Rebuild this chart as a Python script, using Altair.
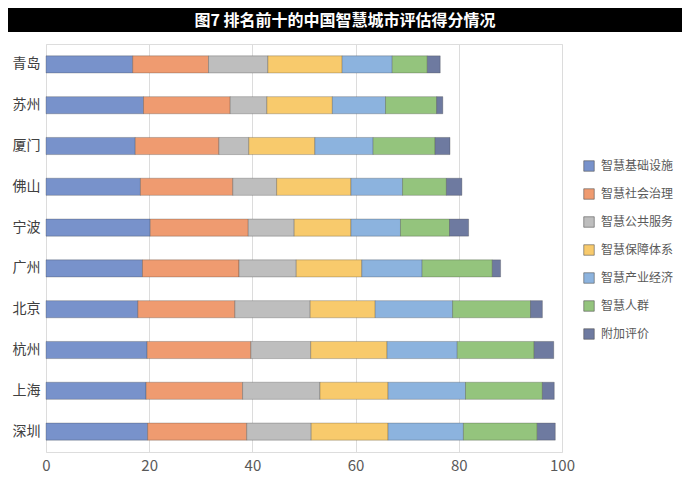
import altair as alt
import pandas as pd

cities = ["青岛", "苏州", "厦门", "佛山", "宁波", "广州", "北京", "杭州", "上海", "深圳"]
series = ["智慧基础设施", "智慧社会治理", "智慧公共服务", "智慧保障体系", "智慧产业经济", "智慧人群", "附加评价"]

infra   = [16.8, 18.9, 17.3, 18.3, 20.2, 18.7, 17.8, 19.6, 19.4, 19.7]
social  = [14.7, 16.8, 16.2, 17.9, 19.0, 18.7, 18.8, 20.1, 18.7, 19.2]
public  = [11.5, 7.1, 5.8, 8.5, 8.9, 11.1, 14.6, 11.6, 15.0, 12.5]
secure  = [14.4, 12.7, 12.8, 14.4, 11.0, 12.7, 12.6, 14.8, 13.2, 14.9]
economy = [9.7, 10.3, 11.3, 10.0, 9.6, 11.7, 15.0, 13.6, 15.0, 14.6]
people  = [6.8, 9.9, 12.0, 8.5, 9.5, 13.6, 15.1, 14.9, 14.9, 14.3]
extra   = [2.5, 1.2, 2.9, 3.0, 3.7, 1.6, 2.3, 3.8, 2.3, 3.5]

values = [infra, social, public, secure, economy, people, extra]
colors = ["#7892CB", "#EF9B70", "#BEBEBE", "#F8CA6C", "#8CB3DE", "#94C47D", "#6E7AA0"]

rows = []
for si, (s, vals) in enumerate(zip(series, values)):
    for c, v in zip(cities, vals):
        rows.append({"city": c, "series": s, "order": si, "value": v})
df = pd.DataFrame(rows)

FONT = "Noto Sans CJK SC"

bars = alt.Chart(df).mark_bar(stroke="#333333", strokeOpacity=0.35, strokeWidth=0.8).encode(
    y=alt.Y("city:N", sort=cities, title=None,
            scale=alt.Scale(paddingInner=0.58, paddingOuter=0.29),
            axis=alt.Axis(ticks=False, domain=False, grid=False, labelFontSize=14,
                          labelColor="#404040", labelPadding=6, labelFont=FONT)),
    x=alt.X("value:Q", stack="zero", title=None,
            scale=alt.Scale(domain=[0, 100], nice=False),
            axis=alt.Axis(values=[0, 20, 40, 60, 80, 100], ticks=False, domain=False,
                          grid=True, gridColor="#DCDCDC", labelFontSize=15,
                          labelColor="#595959", labelPadding=6, labelFont=FONT,
                          labelFlush=False)),
    color=alt.Color("series:N", sort=series, title=None,
                    scale=alt.Scale(domain=series, range=colors),
                    legend=alt.Legend(orient="none", legendX=537, legendY=116,
                                      symbolType="square", symbolSize=110,
                                      symbolStrokeColor="#555555", symbolStrokeWidth=0.6,
                                      labelFontSize=12, labelColor="#595959",
                                      labelFont=FONT, rowPadding=14, labelOffset=6)),
    order=alt.Order("order:Q"),
)

title_df = pd.DataFrame({"t": ["图7  排名前十的中国智慧城市评估得分情况"]})
title_bg = alt.Chart(title_df).mark_rect(color="#000000").encode(
    x=alt.value(-38), x2=alt.value(636), y=alt.value(-36), y2=alt.value(-12)
)
title_txt = alt.Chart(title_df).mark_text(
    color="#FFFFFF", fontSize=16, fontWeight="bold", font=FONT, align="center", baseline="middle"
).encode(x=alt.value(299), y=alt.value(-23), text="t:N")

chart = alt.layer(bars, title_bg, title_txt).properties(
    width=516, height=408,
    autosize=alt.AutoSizeParams(type="none"),
    padding={"left": 38, "top": 36, "right": 120, "bottom": 30},
).configure_view(stroke=None).configure(background="#FFFFFF")

chart.save("out.html", embed_options={"renderer": "svg", "actions": False})
